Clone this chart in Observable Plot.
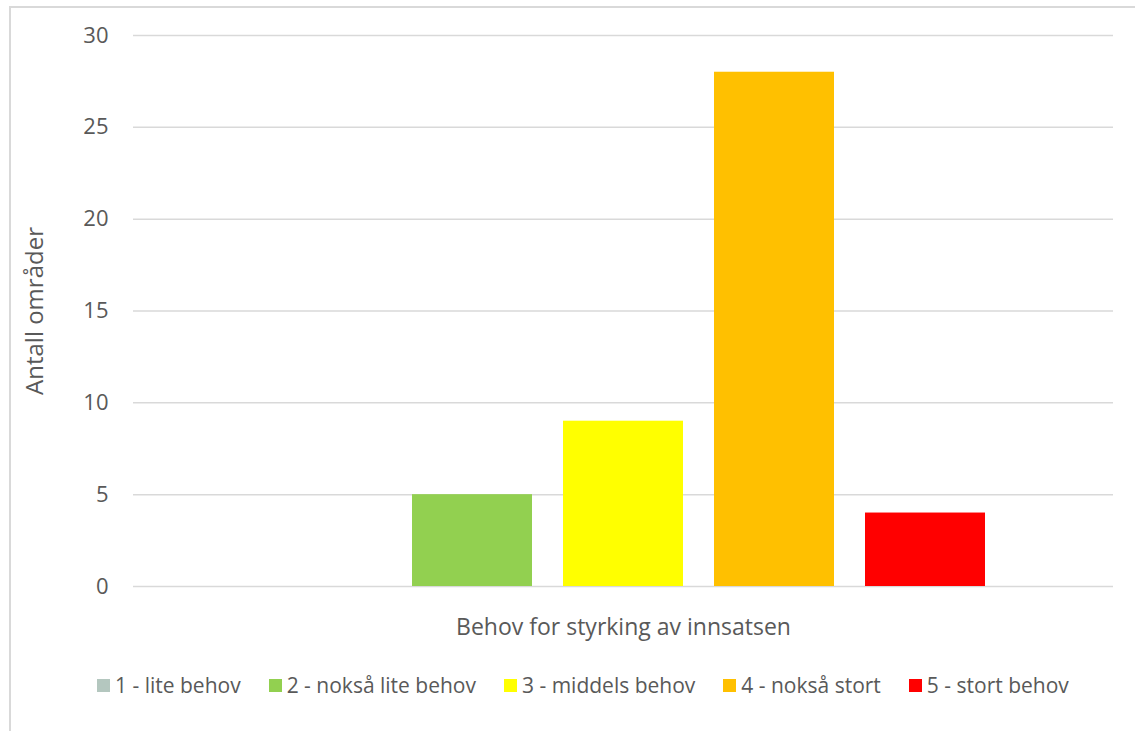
<!DOCTYPE html>
<html>
<head>
<meta charset="utf-8">
<script src="https://cdn.jsdelivr.net/npm/d3@7"></script>
<script src="https://cdn.jsdelivr.net/npm/@observablehq/plot@0.6"></script>
<style>
  html, body { margin: 0; padding: 0; background: #fff; }
  #wrap { position: relative; width: 1135px; height: 731px; overflow: hidden; font-family: "Open Sans", sans-serif; }
  #frame { position: absolute; left: 9px; top: 6px; width: 1140px; height: 740px; border-left: 2px solid #d9d9d9; border-top: 2px solid #d9d9d9; box-sizing: border-box; }
  #chart { position: absolute; left: 0; top: 0; }
  #legend { position: absolute; left: 97px; top: 671px; display: flex; align-items: center; color: #595959; font-size: 21px; white-space: nowrap; }
  .item { display: flex; align-items: center; margin-right: 28px; }
  .sw { width: 13px; height: 13px; margin-right: 5px; }
</style>
</head>
<body>
<div id="wrap">
  <div id="frame"></div>
  <div id="chart"></div>
  <div id="legend"></div>
</div>
<script>
const categories = ["Behov for styrking av innsatsen"];
const series = ["1 - lite behov", "2 - nokså lite behov", "3 - middels behov", "4 - nokså stort", "5 - stort behov"];
const values = [0, 5, 9, 28, 4];
const colors = ["#b4c7bf", "#92d050", "#ffff00", "#ffc000", "#ff0000"];
const yTicks = [0, 5, 10, 15, 20, 25, 30];

const data = series.map((s, i) => ({category: categories[0], series: s, value: values[i]}));

const chart = Plot.plot({
  width: 1135,
  height: 650,
  marginLeft: 133,
  marginRight: 22,
  marginTop: 35,
  marginBottom: 64,
  style: {fontFamily: "'Open Sans', sans-serif", fontSize: "21px", color: "#595959", background: "transparent"},
  fx: {domain: categories, padding: 0, label: null},
  x: {domain: series, paddingInner: 0.207, paddingOuter: 0.841, axis: null},
  y: {domain: [0, 30], ticks: yTicks, label: null},
  color: {domain: series, range: colors},
  marks: [
    Plot.gridY(yTicks, {stroke: "#d9d9d9", strokeOpacity: 1, strokeWidth: 1.5}),
    Plot.axisY(yTicks, {tickSize: 0, tickPadding: 25, fontSize: 22, fill: "#595959"}),
    Plot.axisFx({anchor: "bottom", tickSize: 0, tickPadding: 32, fontSize: 23, fill: "#595959", label: null}),
    Plot.barY(data, {fx: "category", x: "series", y: "value", fill: "series"}),
    Plot.text(["Antall områder"], {frameAnchor: "left", textAnchor: "middle", dx: -98, rotate: -90, fontSize: 24, fill: "#595959", facetAnchor: null})
  ]
});
document.getElementById("chart").appendChild(chart);

const legend = document.getElementById("legend");
series.forEach((s, i) => {
  const it = document.createElement("div");
  it.className = "item";
  const sw = document.createElement("div");
  sw.className = "sw";
  sw.style.background = colors[i];
  const tx = document.createElement("span");
  tx.textContent = s;
  it.appendChild(sw);
  it.appendChild(tx);
  legend.appendChild(it);
});
</script>
</body>
</html>
